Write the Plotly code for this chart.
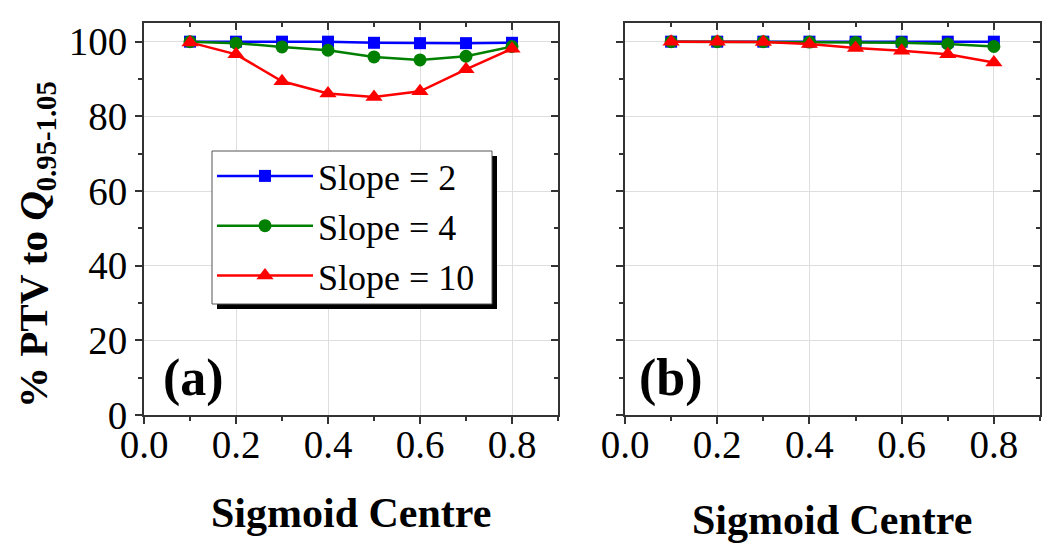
import plotly.graph_objects as go

# ---- data ----
centres = [0.1, 0.2, 0.3, 0.4, 0.5, 0.6, 0.7, 0.8]
series_names = ["Slope = 2", "Slope = 4", "Slope = 10"]

a_slope2 = [100.0, 100.0, 100.0, 100.0, 99.7, 99.6, 99.6, 99.7]
a_slope4 = [100.0, 99.6, 98.6, 97.7, 95.9, 95.1, 96.1, 98.7]
a_slope10 = [99.8, 96.6, 89.4, 86.1, 85.2, 86.7, 92.6, 98.1]

b_slope2 = [100.0, 100.0, 100.0, 100.0, 100.0, 100.0, 100.0, 100.0]
b_slope4 = [100.0, 100.0, 100.0, 99.9, 99.8, 99.7, 99.4, 98.7]
b_slope10 = [100.0, 100.0, 99.9, 99.4, 98.3, 97.6, 96.6, 94.4]

x_ticks = [0.0, 0.2, 0.4, 0.6, 0.8]
x_ticklabels = ["0.0", "0.2", "0.4", "0.6", "0.8"]
y_ticks = [0, 20, 40, 60, 80, 100]
y_ticklabels = ["0", "20", "40", "60", "80", "100"]

colors = ["#0000ff", "#008000", "#ff0000"]
symbols = ["square", "circle", "triangle-up"]
sizes = [12, 13, 15]

FONT = "Liberation Serif"
# the page body has an 8px default margin; the figure fills the rest of the window
OFF = 8
W, H = 1050 - OFF, 548 - OFF

fig = go.Figure()

panels = [("x", "y", [a_slope2, a_slope4, a_slope10], True),
          ("x2", "y2", [b_slope2, b_slope4, b_slope10], False)]
for xa, ya, vals, show in panels:
    for name, v, c, s, sz in zip(series_names, vals, colors, symbols, sizes):
        fig.add_trace(go.Scatter(
            x=centres, y=v, name=name, mode="lines+markers",
            line=dict(color=c, width=2.5),
            marker=dict(symbol=s, size=sz, color=c),
            xaxis=xa, yaxis=ya, showlegend=show))

# empty carriers so the mirrored top/right tick axes get drawn
for xa, ya in [("x3", "y3"), ("x4", "y4")]:
    fig.add_trace(go.Scatter(x=[], y=[], xaxis=xa, yaxis=ya, mode="markers",
                             showlegend=False, hoverinfo="skip"))

def px_x(p):
    return (p - OFF) / W

def px_y(p):
    return 1 - (p - OFF) / H

dom_a = [px_x(144), px_x(558)]
dom_b = [px_x(625), px_x(1040)]
dom_y = [px_y(415), px_y(23)]

AX = "#333333"
GRID = "#dedede"
XR = [0, 0.9]
YR = [0, 105]

def xaxis(domain, anchor):
    return dict(domain=domain, anchor=anchor, range=XR,
                tickvals=x_ticks, ticktext=x_ticklabels,
                ticks="outside", ticklen=7, tickwidth=2, tickcolor=AX,
                minor=dict(dtick=0.1, tick0=0, ticks="outside", ticklen=4,
                           tickwidth=1.5, tickcolor=AX, showgrid=False),
                showline=True, linecolor=AX, linewidth=2, mirror=True,
                showgrid=True, gridcolor=GRID, gridwidth=1,
                tickfont=dict(family=FONT, size=39, color="black"),
                ticklabelstandoff=-13,
                zeroline=False, automargin=False)

def yaxis(anchor, labels):
    return dict(domain=dom_y, anchor=anchor, range=YR,
                tickvals=y_ticks, ticktext=y_ticklabels,
                showticklabels=labels,
                ticks="outside", ticklen=7, tickwidth=2, tickcolor=AX,
                minor=dict(dtick=10, tick0=0, ticks="outside", ticklen=4,
                           tickwidth=1.5, tickcolor=AX, showgrid=False),
                showline=True, linecolor=AX, linewidth=2, mirror=True,
                showgrid=True, gridcolor=GRID, gridwidth=1,
                tickfont=dict(family=FONT, size=39, color="black"),
                zeroline=False, automargin=False)

def top_axis(over, anchor):
    return dict(overlaying=over, anchor=anchor, side="top", range=XR,
                tickvals=x_ticks, showticklabels=False,
                ticks="inside", ticklen=7, tickwidth=2, tickcolor=AX,
                minor=dict(dtick=0.1, tick0=0, ticks="inside", ticklen=4,
                           tickwidth=1.5, tickcolor=AX, showgrid=False),
                showline=False, showgrid=False, zeroline=False, automargin=False)

def right_axis(over, anchor):
    return dict(overlaying=over, anchor=anchor, side="right", range=YR,
                tickvals=y_ticks, showticklabels=False,
                ticks="inside", ticklen=7, tickwidth=2, tickcolor=AX,
                minor=dict(dtick=10, tick0=0, ticks="inside", ticklen=4,
                           tickwidth=1.5, tickcolor=AX, showgrid=False),
                showline=False, showgrid=False, zeroline=False, automargin=False)

fig.update_layout(
    width=W, height=H,
    margin=dict(l=0, r=0, t=0, b=0, autoexpand=False),
    paper_bgcolor="white", plot_bgcolor="white",
    xaxis=xaxis(dom_a, "y"),
    yaxis=yaxis("x", True),
    xaxis2=xaxis(dom_b, "y2"),
    yaxis2=yaxis("x2", False),
    xaxis3=top_axis("x", "y3"),
    yaxis3=right_axis("y", "x3"),
    xaxis4=top_axis("x2", "y4"),
    yaxis4=right_axis("y2", "x4"),
    legend=dict(x=px_x(212), y=px_y(146), xanchor="left", yanchor="top",
                bgcolor="rgba(0,0,0,0)", borderwidth=0,
                font=dict(family=FONT, size=36, color="black"),
                itemwidth=96, tracegroupgap=0),
    showlegend=True,
)

# legend frame with drop shadow
fig.add_shape(type="rect", xref="paper", yref="paper",
              x0=px_x(217), x1=px_x(497), y0=px_y(309), y1=px_y(156),
              fillcolor="black", line=dict(width=0), layer="above")
fig.add_shape(type="rect", xref="paper", yref="paper",
              x0=px_x(212), x1=px_x(492), y0=px_y(304), y1=px_y(151),
              fillcolor="white", line=dict(width=1, color="#555555"), layer="above")

annots = [
    dict(text="<b>Sigmoid Centre</b>", x=px_x(351), y=px_y(513), size=42, angle=0),
    dict(text="<b>Sigmoid Centre</b>", x=px_x(832), y=px_y(520), size=42, angle=0),
    dict(text="<b>(a)</b>", x=px_x(193), y=px_y(378), size=52, angle=0),
    dict(text="<b>(b)</b>", x=px_x(671), y=px_y(378), size=52, angle=0),
    dict(text="<b>% PTV to <i>Q</i><sub>0.95-1.05</sub></b>", x=px_x(36), y=px_y(245), size=41, angle=-90),
]
for a in annots:
    fig.add_annotation(text=a["text"], x=a["x"], y=a["y"], xref="paper", yref="paper",
                       xanchor="center", yanchor="middle", showarrow=False,
                       textangle=a["angle"],
                       font=dict(family=FONT, size=a["size"], color="black"))

fig.write_html("out.html")
